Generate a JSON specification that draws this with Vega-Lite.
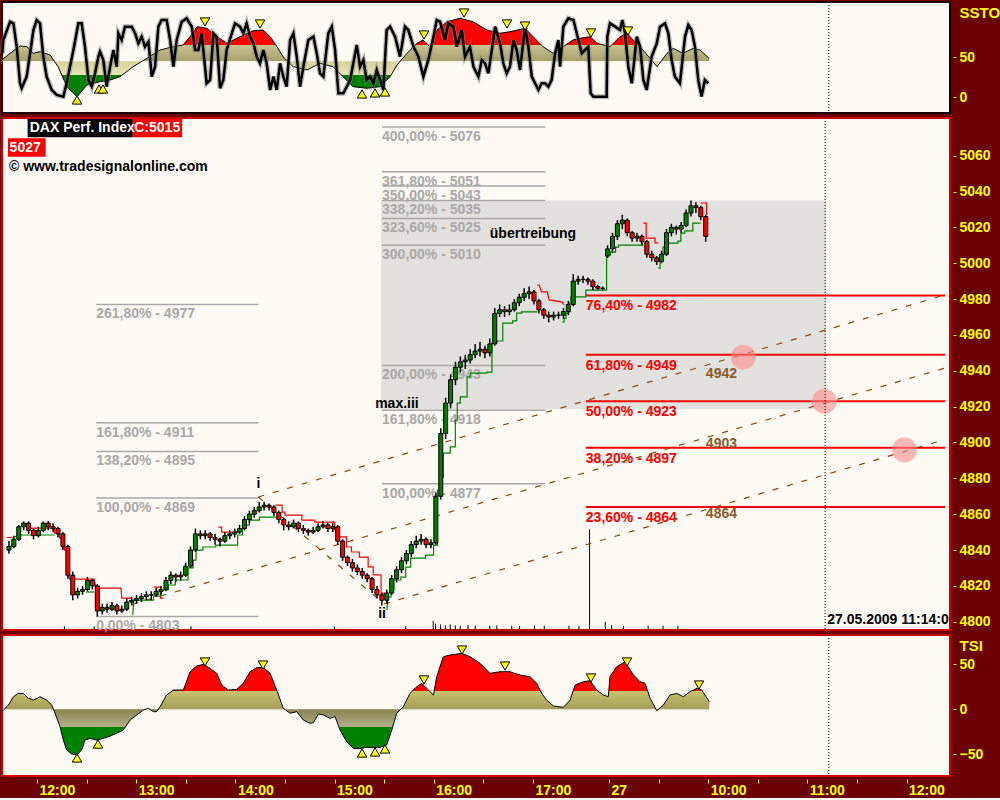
{
"$schema":"https://vega.github.io/schema/vega-lite/v6.json",
"background":"#6b0000",
"padding":{"left":-9,"top":0,"right":0,"bottom":0},
"spacing":5,
"bounds":"flush",
"config":{
 "axis":{"labelFont":"Liberation Sans","labelFontWeight":"bold","labelFontSize":14,"labelColor":"#ffff00","tickColor":"#ffff00","domain":false,"grid":false,"titleFont":"Liberation Sans","titleFontWeight":"bold","titleFontSize":15,"titleColor":"#ffff00","labelOverlap":false},
 "text":{"font":"Liberation Sans","fontWeight":"bold","fontSize":14}
},
"datasets":{
"px":[
{"t":-20,"o":4840,"h":4845,"l":4838,"c":4842},{"t":-17,"o":4842,"h":4848,"l":4841,"c":4846},{"t":-14,"o":4846,"h":4854,"l":4845,"c":4853},{"t":-11,"o":4853,"h":4856,"l":4851,"c":4855},{"t":-8,"o":4855,"h":4856,"l":4849,"c":4851},{"t":-5,"o":4851,"h":4852,"l":4846,"c":4848},{"t":-2,"o":4848,"h":4853,"l":4847,"c":4851},{"t":1,"o":4851,"h":4856,"l":4850,"c":4855},{"t":4,"o":4855,"h":4856,"l":4851,"c":4853},{"t":7,"o":4853,"h":4855,"l":4850,"c":4852},{"t":10,"o":4852,"h":4853,"l":4847,"c":4849},{"t":13,"o":4849,"h":4850,"l":4840,"c":4842},{"t":16,"o":4842,"h":4843,"l":4824,"c":4826},{"t":19,"o":4826,"h":4828,"l":4812,"c":4815},{"t":22,"o":4815,"h":4819,"l":4813,"c":4817},{"t":25,"o":4817,"h":4820,"l":4815,"c":4818},{"t":28,"o":4818,"h":4825,"l":4817,"c":4823},{"t":31,"o":4823,"h":4824,"l":4818,"c":4820},{"t":34,"o":4820,"h":4821,"l":4803,"c":4806},{"t":37,"o":4806,"h":4810,"l":4804,"c":4808},{"t":40,"o":4808,"h":4810,"l":4805,"c":4807},{"t":43,"o":4807,"h":4811,"l":4806,"c":4809},{"t":46,"o":4809,"h":4810,"l":4804,"c":4806},{"t":49,"o":4806,"h":4809,"l":4805,"c":4807},{"t":52,"o":4807,"h":4813,"l":4806,"c":4811},{"t":55,"o":4811,"h":4814,"l":4809,"c":4812},{"t":58,"o":4812,"h":4815,"l":4810,"c":4813},{"t":61,"o":4813,"h":4816,"l":4811,"c":4814},{"t":64,"o":4814,"h":4817,"l":4812,"c":4815},{"t":67,"o":4815,"h":4817,"l":4812,"c":4815},{"t":70,"o":4815,"h":4819,"l":4814,"c":4817},{"t":73,"o":4817,"h":4820,"l":4815,"c":4818},{"t":76,"o":4818,"h":4825,"l":4817,"c":4823},{"t":79,"o":4823,"h":4828,"l":4821,"c":4826},{"t":82,"o":4826,"h":4827,"l":4822,"c":4825},{"t":85,"o":4825,"h":4828,"l":4823,"c":4826},{"t":88,"o":4826,"h":4833,"l":4825,"c":4831},{"t":91,"o":4831,"h":4842,"l":4830,"c":4840},{"t":94,"o":4840,"h":4852,"l":4839,"c":4849},{"t":97,"o":4849,"h":4851,"l":4846,"c":4848},{"t":100,"o":4848,"h":4851,"l":4846,"c":4849},{"t":103,"o":4849,"h":4850,"l":4845,"c":4847},{"t":106,"o":4847,"h":4849,"l":4843,"c":4846},{"t":109,"o":4846,"h":4847,"l":4842,"c":4845},{"t":112,"o":4845,"h":4850,"l":4844,"c":4848},{"t":115,"o":4848,"h":4851,"l":4846,"c":4849},{"t":118,"o":4849,"h":4852,"l":4847,"c":4850},{"t":121,"o":4850,"h":4854,"l":4849,"c":4852},{"t":124,"o":4852,"h":4859,"l":4851,"c":4857},{"t":127,"o":4857,"h":4862,"l":4855,"c":4860},{"t":130,"o":4860,"h":4864,"l":4858,"c":4862},{"t":133,"o":4862,"h":4867,"l":4861,"c":4864},{"t":136,"o":4864,"h":4867,"l":4862,"c":4865},{"t":139,"o":4865,"h":4866,"l":4862,"c":4864},{"t":142,"o":4864,"h":4865,"l":4859,"c":4861},{"t":145,"o":4861,"h":4862,"l":4855,"c":4857},{"t":148,"o":4857,"h":4858,"l":4851,"c":4854},{"t":151,"o":4854,"h":4856,"l":4851,"c":4853},{"t":154,"o":4853,"h":4857,"l":4852,"c":4855},{"t":157,"o":4855,"h":4856,"l":4850,"c":4852},{"t":160,"o":4852,"h":4854,"l":4849,"c":4851},{"t":163,"o":4851,"h":4852,"l":4848,"c":4850},{"t":166,"o":4850,"h":4853,"l":4849,"c":4851},{"t":169,"o":4851,"h":4855,"l":4850,"c":4853},{"t":172,"o":4853,"h":4856,"l":4852,"c":4854},{"t":175,"o":4854,"h":4855,"l":4850,"c":4852},{"t":178,"o":4852,"h":4855,"l":4850,"c":4853},{"t":181,"o":4853,"h":4854,"l":4843,"c":4845},{"t":184,"o":4845,"h":4846,"l":4834,"c":4836},{"t":187,"o":4836,"h":4837,"l":4831,"c":4833},{"t":190,"o":4833,"h":4835,"l":4828,"c":4830},{"t":193,"o":4830,"h":4832,"l":4826,"c":4828},{"t":196,"o":4828,"h":4830,"l":4824,"c":4826},{"t":199,"o":4826,"h":4827,"l":4822,"c":4824},{"t":202,"o":4824,"h":4825,"l":4816,"c":4818},{"t":205,"o":4818,"h":4820,"l":4813,"c":4815},{"t":208,"o":4815,"h":4816,"l":4809,"c":4812},{"t":211,"o":4812,"h":4818,"l":4810,"c":4816},{"t":214,"o":4816,"h":4826,"l":4815,"c":4824},{"t":217,"o":4824,"h":4831,"l":4822,"c":4829},{"t":220,"o":4829,"h":4836,"l":4827,"c":4834},{"t":223,"o":4834,"h":4840,"l":4832,"c":4838},{"t":226,"o":4838,"h":4845,"l":4836,"c":4843},{"t":229,"o":4843,"h":4848,"l":4841,"c":4845},{"t":232,"o":4845,"h":4849,"l":4843,"c":4846},{"t":235,"o":4846,"h":4847,"l":4841,"c":4843},{"t":238,"o":4843,"h":4846,"l":4841,"c":4844},{"t":241,"o":4844,"h":4872,"l":4843,"c":4870},{"t":244,"o":4870,"h":4908,"l":4868,"c":4905},{"t":247,"o":4905,"h":4925,"l":4902,"c":4922},{"t":250,"o":4922,"h":4938,"l":4919,"c":4935},{"t":253,"o":4935,"h":4945,"l":4932,"c":4942},{"t":256,"o":4942,"h":4948,"l":4939,"c":4945},{"t":259,"o":4945,"h":4949,"l":4941,"c":4946},{"t":262,"o":4946,"h":4952,"l":4944,"c":4949},{"t":265,"o":4949,"h":4955,"l":4947,"c":4951},{"t":268,"o":4951,"h":4956,"l":4948,"c":4952},{"t":271,"o":4952,"h":4954,"l":4947,"c":4950},{"t":274,"o":4950,"h":4958,"l":4948,"c":4955},{"t":277,"o":4955,"h":4975,"l":4954,"c":4972},{"t":280,"o":4972,"h":4977,"l":4970,"c":4974},{"t":283,"o":4974,"h":4976,"l":4970,"c":4973},{"t":286,"o":4973,"h":4977,"l":4971,"c":4974},{"t":289,"o":4974,"h":4980,"l":4973,"c":4978},{"t":292,"o":4978,"h":4983,"l":4976,"c":4981},{"t":295,"o":4981,"h":4986,"l":4979,"c":4983},{"t":298,"o":4983,"h":4987,"l":4980,"c":4984},{"t":301,"o":4984,"h":4985,"l":4977,"c":4979},{"t":304,"o":4979,"h":4980,"l":4972,"c":4974},{"t":307,"o":4974,"h":4975,"l":4969,"c":4971},{"t":310,"o":4971,"h":4973,"l":4967,"c":4970},{"t":313,"o":4970,"h":4973,"l":4968,"c":4971},{"t":316,"o":4971,"h":4973,"l":4969,"c":4971},{"t":319,"o":4971,"h":4975,"l":4969,"c":4973},{"t":322,"o":4973,"h":4979,"l":4971,"c":4977},{"t":325,"o":4977,"h":4994,"l":4976,"c":4990},{"t":328,"o":4990,"h":4993,"l":4988,"c":4991},{"t":331,"o":4991,"h":4993,"l":4989,"c":4991},{"t":334,"o":4991,"h":4992,"l":4988,"c":4990},{"t":337,"o":4990,"h":4991,"l":4985,"c":4987},{"t":340,"o":4987,"h":4988,"l":4985,"c":4986},{"t":343,"o":4986,"h":4987,"l":4985,"c":4986},{"t":346,"o":5004,"h":5010,"l":5003,"c":5008},{"t":349,"o":5008,"h":5017,"l":5006,"c":5015},{"t":352,"o":5015,"h":5024,"l":5013,"c":5022},{"t":355,"o":5022,"h":5027,"l":5019,"c":5024},{"t":358,"o":5024,"h":5025,"l":5015,"c":5017},{"t":361,"o":5017,"h":5018,"l":5012,"c":5014},{"t":364,"o":5014,"h":5017,"l":5012,"c":5015},{"t":367,"o":5015,"h":5016,"l":5010,"c":5012},{"t":370,"o":5012,"h":5013,"l":5003,"c":5005},{"t":373,"o":5005,"h":5007,"l":5001,"c":5003},{"t":376,"o":5003,"h":5004,"l":4999,"c":5001},{"t":379,"o":5001,"h":5007,"l":5000,"c":5005},{"t":382,"o":5005,"h":5019,"l":5004,"c":5017},{"t":385,"o":5017,"h":5022,"l":5015,"c":5020},{"t":388,"o":5020,"h":5021,"l":5016,"c":5019},{"t":391,"o":5019,"h":5023,"l":5017,"c":5021},{"t":394,"o":5021,"h":5030,"l":5020,"c":5028},{"t":397,"o":5028,"h":5035,"l":5026,"c":5032},{"t":400,"o":5032,"h":5034,"l":5028,"c":5031},{"t":403,"o":5031,"h":5032,"l":5024,"c":5026},{"t":406,"o":5026,"h":5027,"l":5012,"c":5015}
],
"rstep":[
{"s":1,"t":-21.2,"v":4847},{"s":1,"t":-18,"v":4847},
{"s":2,"t":-7.3,"v":4852.2},{"s":2,"t":7.9,"v":4852.2},{"s":2,"t":7.9,"v":4849.5},{"s":2,"t":10.9,"v":4849.5},{"s":2,"t":10.9,"v":4846.7},{"s":2,"t":13.9,"v":4846.7},{"s":2,"t":13.9,"v":4840},{"s":2,"t":15.7,"v":4840},{"s":2,"t":17,"v":4823.8},{"s":2,"t":32.1,"v":4823.8},{"s":2,"t":33.3,"v":4818.8},{"s":2,"t":48.4,"v":4818.8},{"s":2,"t":49,"v":4813.2},{"s":2,"t":55.1,"v":4813.2},
{"s":3,"t":68.4,"v":4819.3},{"s":3,"t":72.6,"v":4819.3},{"s":3,"t":72.6,"v":4813.2},{"s":3,"t":74.4,"v":4813.2},
{"s":4,"t":108,"v":4852.8},{"s":4,"t":110,"v":4852.8},{"s":4,"t":110,"v":4850},{"s":4,"t":120,"v":4850},
{"s":5,"t":142.8,"v":4865.1},{"s":5,"t":147,"v":4865.1},{"s":5,"t":147,"v":4861.2},{"s":5,"t":148.8,"v":4861.2},{"s":5,"t":148.8,"v":4859.5},{"s":5,"t":159.1,"v":4859.5},{"s":5,"t":159.1,"v":4856.7},{"s":5,"t":167,"v":4856.7},{"s":5,"t":167,"v":4855.6},{"s":5,"t":179.1,"v":4855.6},{"s":5,"t":179.1,"v":4851.2},{"s":5,"t":181.5,"v":4851.2},{"s":5,"t":181.5,"v":4847.3},{"s":5,"t":186.3,"v":4847.3},{"s":5,"t":186.3,"v":4841.7},{"s":5,"t":189.4,"v":4841.7},{"s":5,"t":189.4,"v":4838.9},{"s":5,"t":194.2,"v":4838.9},{"s":5,"t":194.2,"v":4836.1},{"s":5,"t":199.6,"v":4836.1},{"s":5,"t":199.6,"v":4830.6},{"s":5,"t":202.7,"v":4830.6},{"s":5,"t":202.7,"v":4826.1},{"s":5,"t":207.5,"v":4826.1},{"s":5,"t":207.5,"v":4816},{"s":5,"t":209.9,"v":4816},
{"s":6,"t":303.1,"v":4987.8},{"s":6,"t":304.3,"v":4987.8},{"s":6,"t":305.5,"v":4984},{"s":6,"t":309.1,"v":4984},{"s":6,"t":310.3,"v":4979.5},{"s":6,"t":318.2,"v":4978.3},{"s":6,"t":319.4,"v":4976.7},
{"s":7,"t":367.8,"v":5022.4},{"s":7,"t":369.6,"v":5022.4},{"s":7,"t":369.6,"v":5014},{"s":7,"t":375,"v":5014},{"s":7,"t":375,"v":5011.3},{"s":7,"t":376.9,"v":5011.3},
{"s":8,"t":402.9,"v":5033.6},{"s":8,"t":406.5,"v":5033.6},{"s":8,"t":406.5,"v":5026.9}
],
"gstep":[
{"s":1,"t":-21.2,"v":4841.7},{"s":1,"t":-18.1,"v":4841.7},{"s":1,"t":-17.5,"v":4846.7},{"s":1,"t":-14.5,"v":4848.4},{"s":1,"t":7.9,"v":4848.4},
{"s":2,"t":27.2,"v":4816.6},{"s":2,"t":32.1,"v":4816.6},
{"s":3,"t":55.7,"v":4803.7},{"s":3,"t":56.3,"v":4812.1},{"s":3,"t":68.4,"v":4812.1},{"s":3,"t":68.4,"v":4814.3},{"s":3,"t":72.6,"v":4814.3},{"s":3,"t":72.6,"v":4817.7},{"s":3,"t":77.4,"v":4817.7},{"s":3,"t":77.4,"v":4820.5},{"s":3,"t":81.7,"v":4820.5},{"s":3,"t":81.7,"v":4823.3},{"s":3,"t":89.5,"v":4823.3},{"s":3,"t":89.5,"v":4830},{"s":3,"t":92.6,"v":4830},{"s":3,"t":92.6,"v":4834.4},{"s":3,"t":94.4,"v":4834.4},{"s":3,"t":94.4,"v":4840},{"s":3,"t":98.6,"v":4840},{"s":3,"t":98.6,"v":4841.7},{"s":3,"t":106.5,"v":4841.7},{"s":3,"t":106.5,"v":4842.8},{"s":3,"t":119.8,"v":4842.8},{"s":3,"t":119.8,"v":4848.4},{"s":3,"t":122.8,"v":4848.4},{"s":3,"t":122.8,"v":4853.9},{"s":3,"t":127,"v":4853.9},{"s":3,"t":127,"v":4856.7},{"s":3,"t":133.1,"v":4856.7},{"s":3,"t":133.1,"v":4858.4},{"s":3,"t":144,"v":4858.4},
{"s":5,"t":211.1,"v":4806.5},{"s":5,"t":211.7,"v":4813.8},{"s":5,"t":213.6,"v":4813.8},{"s":5,"t":213.6,"v":4817.7},{"s":5,"t":215.4,"v":4817.7},{"s":5,"t":215.4,"v":4823.3},{"s":5,"t":219.6,"v":4823.3},{"s":5,"t":219.6,"v":4824.9},{"s":5,"t":222.6,"v":4824.9},{"s":5,"t":222.6,"v":4830.5},{"s":5,"t":225.6,"v":4830.5},{"s":5,"t":225.6,"v":4835.5},{"s":5,"t":234.7,"v":4835.5},{"s":5,"t":234.7,"v":4837.2},{"s":5,"t":239.6,"v":4837.2},{"s":5,"t":239.6,"v":4842.8},{"s":5,"t":242,"v":4842.8},{"s":5,"t":242,"v":4873.5},{"s":5,"t":245,"v":4873.5},{"s":5,"t":245,"v":4880.7},{"s":5,"t":245.6,"v":4880.7},{"s":5,"t":245.6,"v":4894.1},{"s":5,"t":249.8,"v":4894.1},{"s":5,"t":249.8,"v":4897.5},{"s":5,"t":252.9,"v":4897.5},{"s":5,"t":252.9,"v":4912.5},{"s":5,"t":254.1,"v":4912.5},{"s":5,"t":254.1,"v":4922},{"s":5,"t":255.9,"v":4922},{"s":5,"t":255.9,"v":4925.4},{"s":5,"t":260.1,"v":4925.4},{"s":5,"t":260.1,"v":4936.5},{"s":5,"t":262,"v":4936.5},{"s":5,"t":262,"v":4938.7},{"s":5,"t":272.2,"v":4938.7},{"s":5,"t":272.2,"v":4939.3},{"s":5,"t":275.3,"v":4939.3},{"s":5,"t":275.3,"v":4955.5},{"s":5,"t":278.3,"v":4955.5},{"s":5,"t":278.3,"v":4956.6},{"s":5,"t":281.9,"v":4956.6},{"s":5,"t":281.9,"v":4966.6},{"s":5,"t":288,"v":4966.6},{"s":5,"t":288,"v":4967.8},{"s":5,"t":290.4,"v":4967.8},{"s":5,"t":290.4,"v":4972.2},{"s":5,"t":293.4,"v":4972.2},{"s":5,"t":293.4,"v":4972.8},{"s":5,"t":303.1,"v":4972.8},
{"s":6,"t":318.2,"v":4967.2},{"s":6,"t":319.4,"v":4967.2},{"s":6,"t":319.4,"v":4969.4},{"s":6,"t":320.6,"v":4969.4},{"s":6,"t":320.6,"v":4972.2},{"s":6,"t":322.4,"v":4972.2},{"s":6,"t":322.4,"v":4977.8},{"s":6,"t":323.6,"v":4977.8},{"s":6,"t":323.6,"v":4981.2},{"s":6,"t":332.7,"v":4981.2},{"s":6,"t":332.7,"v":4985},{"s":6,"t":345.4,"v":4985},{"s":6,"t":345.4,"v":5004.6},{"s":6,"t":347.8,"v":5004.6},{"s":6,"t":347.8,"v":5006.2},{"s":6,"t":350.9,"v":5006.2},{"s":6,"t":350.9,"v":5009},{"s":6,"t":352.7,"v":5009},{"s":6,"t":352.7,"v":5010.1},{"s":6,"t":367.8,"v":5010.1},
{"s":7,"t":376.9,"v":4997.3},{"s":7,"t":378.1,"v":4997.3},{"s":7,"t":378.1,"v":5003.4},{"s":7,"t":378.7,"v":5003.4},{"s":7,"t":378.7,"v":5004.6},{"s":7,"t":379.9,"v":5004.6},{"s":7,"t":379.9,"v":5009},{"s":7,"t":381.1,"v":5009},{"s":7,"t":381.1,"v":5011.2},{"s":7,"t":389,"v":5011.2},{"s":7,"t":389,"v":5012.3},{"s":7,"t":390.8,"v":5012.3},{"s":7,"t":390.8,"v":5016.8},{"s":7,"t":393.2,"v":5016.8},{"s":7,"t":393.2,"v":5018},{"s":7,"t":398.1,"v":5018},{"s":7,"t":398.1,"v":5022.4},{"s":7,"t":402.9,"v":5022.4}
],
"vol":[{"t":13.9,"v":4797.5},{"t":32.1,"v":4797.5},{"t":91.3,"v":4797.5},{"t":179,"v":4797.5},{"t":222.6,"v":4797.5},{"t":239.4,"v":4800.5},{"t":240.8,"v":4799},{"t":243.8,"v":4798.5},{"t":246.8,"v":4798},{"t":249.8,"v":4798.5},{"t":252.9,"v":4798},{"t":255.9,"v":4797.8},{"t":260.7,"v":4798.2},{"t":265,"v":4797.8},{"t":274,"v":4797.8},{"t":278.3,"v":4798},{"t":287.4,"v":4797.8},{"t":292.2,"v":4797.8},{"t":301.3,"v":4797.8},{"t":307.3,"v":4797.8},{"t":322.4,"v":4797.8},{"t":328.5,"v":4797.8},{"t":335,"v":4851.5},{"t":344.6,"v":4800},{"t":348.5,"v":4798},{"t":355.7,"v":4797.8},{"t":370.8,"v":4797.8},{"t":379.9,"v":4797.8},{"t":389,"v":4797.8}],
"fibg":[
{"t1":33.3,"t2":132.5,"v":4803,"lab":"0,00% - 4803"},{"t1":33.3,"t2":132.5,"v":4869,"lab":"100,00% - 4869"},{"t1":33.3,"t2":132.5,"v":4895,"lab":"138,20% - 4895"},{"t1":33.3,"t2":132.5,"v":4911,"lab":"161,80% - 4911"},{"t1":33.3,"t2":132.5,"v":4977,"lab":"261,80% - 4977"},
{"t1":208.1,"t2":307.9,"v":4877,"lab":"100,00% - 4877"},{"t1":208.1,"t2":307.9,"v":4918,"lab":"161,80% - 4918"},{"t1":208.1,"t2":307.9,"v":4943,"lab":"200,00% - 4943"},{"t1":208.1,"t2":307.9,"v":5010,"lab":"300,00% - 5010"},{"t1":208.1,"t2":307.9,"v":5025,"lab":"323,60% - 5025"},{"t1":208.1,"t2":307.9,"v":5035,"lab":"338,20% - 5035"},{"t1":208.1,"t2":307.9,"v":5043,"lab":"350,00% - 5043"},{"t1":208.1,"t2":307.9,"v":5051,"lab":"361,80% - 5051"},{"t1":208.1,"t2":307.9,"v":5076,"lab":"400,00% - 5076"}
],
"fibr":[
{"t1":332.7,"t2":552.3,"v":4982,"lab":"76,40% - 4982"},{"t1":332.7,"t2":552.3,"v":4949,"lab":"61,80% - 4949"},{"t1":332.7,"t2":552.3,"v":4923,"lab":"50,00% - 4923"},{"t1":332.7,"t2":552.3,"v":4897,"lab":"38,20% - 4897"},{"t1":332.7,"t2":552.3,"v":4864,"lab":"23,60% - 4864"}
],
"chan":[{"s":"A","t":132.5,"v":4869.6},{"s":"A","t":552.3,"v":4982.3},{"s":"B","t":55,"v":4809.6},{"s":"B","t":552.3,"v":4941.5},{"s":"C","t":209.3,"v":4809.9},{"s":"C","t":552.3,"v":4901.6},{"s":"D","t":132.5,"v":4869.6},{"s":"D","t":209.3,"v":4809.9}],
"circ":[{"t":429,"v":4947.6},{"t":478.5,"v":4923},{"t":527.5,"v":4895.8}],
"ss":[{"t":-21.2,"v":46.5},{"t":-16.3,"v":54.8},{"t":-10.3,"v":63.9},{"t":-6,"v":63},{"t":-2.4,"v":54.8},{"t":1.8,"v":56.8},{"t":7.9,"v":52.7},{"t":12.7,"v":38.1},{"t":18.1,"v":13.2},{"t":24.2,"v":0.7},{"t":30.2,"v":15.3},{"t":38.1,"v":19.4},{"t":44.2,"v":21.5},{"t":50.2,"v":25.7},{"t":58.1,"v":38.1},{"t":66.5,"v":48.6},{"t":74.4,"v":58.9},{"t":82.3,"v":63},{"t":88.3,"v":65.1},{"t":92.6,"v":75.5},{"t":96.8,"v":87.9},{"t":102.8,"v":85.9},{"t":108.9,"v":75.5},{"t":114.9,"v":67.2},{"t":122.8,"v":75.5},{"t":130.7,"v":82.9},{"t":136.7,"v":83.8},{"t":141,"v":75.5},{"t":145.2,"v":63},{"t":148.8,"v":50.6},{"t":154.9,"v":38.1},{"t":163.3,"v":34},{"t":171.2,"v":42.3},{"t":179.1,"v":38.1},{"t":185.1,"v":25.7},{"t":191.2,"v":13.2},{"t":199.6,"v":11.2},{"t":207.5,"v":13.2},{"t":213.6,"v":25.7},{"t":217.8,"v":40.2},{"t":223.8,"v":54.8},{"t":229.9,"v":67.2},{"t":233.5,"v":71.4},{"t":237.8,"v":63},{"t":242,"v":83.8},{"t":248,"v":94.1},{"t":255.9,"v":98.4},{"t":263.8,"v":94.1},{"t":272.2,"v":83.8},{"t":280.1,"v":79.7},{"t":286.1,"v":81.7},{"t":295.2,"v":85.9},{"t":300.1,"v":75.5},{"t":306.1,"v":63},{"t":312.2,"v":54.8},{"t":318.2,"v":63},{"t":324.3,"v":71.4},{"t":328.5,"v":73.5},{"t":334.5,"v":75.5},{"t":338.8,"v":67.2},{"t":346.6,"v":63},{"t":352.7,"v":75.5},{"t":356.9,"v":79.7},{"t":360.6,"v":71.4},{"t":364.8,"v":63},{"t":370.8,"v":48.6},{"t":375.1,"v":38.1},{"t":381.1,"v":54.8},{"t":384.8,"v":60.9},{"t":390.8,"v":54.8},{"t":396.9,"v":60.9},{"t":401.1,"v":58.9},{"t":406.5,"v":48.6}],
"sf":[{"t":-21,"v":54.8},{"t":-20.4,"v":71.3},{"t":-16.3,"v":94.2},{"t":-14.3,"v":92.1},{"t":-12.3,"v":63.1},{"t":-10.3,"v":17.4},{"t":-9.3,"v":11.2},{"t":-6.3,"v":25.7},{"t":-4.2,"v":54.8},{"t":-2.2,"v":83.8},{"t":-0.2,"v":96.2},{"t":1.8,"v":92.1},{"t":3.8,"v":50.6},{"t":5.8,"v":25.7},{"t":8.9,"v":9.1},{"t":11.9,"v":2.9},{"t":15.9,"v":0.8},{"t":17.9,"v":17.4},{"t":22,"v":58.9},{"t":25,"v":92.1},{"t":27,"v":92.1},{"t":29,"v":63.1},{"t":31.1,"v":21.5},{"t":33.1,"v":13.2},{"t":35.1,"v":29.8},{"t":37.1,"v":50.6},{"t":38.1,"v":56.8},{"t":40.1,"v":46.5},{"t":42.1,"v":13.2},{"t":44.2,"v":38.1},{"t":46.2,"v":58.9},{"t":48.2,"v":38.1},{"t":49.2,"v":79.7},{"t":51.2,"v":71.3},{"t":53.2,"v":88},{"t":57.3,"v":88},{"t":59.3,"v":79.7},{"t":61.3,"v":67.2},{"t":63.3,"v":75.5},{"t":65.3,"v":63.1},{"t":67.4,"v":69.3},{"t":69.4,"v":25.7},{"t":71.4,"v":38.1},{"t":73.4,"v":88},{"t":75.4,"v":96.2},{"t":78.4,"v":96.2},{"t":80.5,"v":71.3},{"t":82.5,"v":38.1},{"t":84.5,"v":71.3},{"t":87.5,"v":94.2},{"t":90.5,"v":98.3},{"t":93.6,"v":88},{"t":95.6,"v":58.9},{"t":97.6,"v":58.9},{"t":99.6,"v":79.7},{"t":102.6,"v":17.4},{"t":104.7,"v":21.5},{"t":106.7,"v":79.7},{"t":108.7,"v":75.5},{"t":110.7,"v":11.2},{"t":112.7,"v":21.5},{"t":114.7,"v":58.9},{"t":117.8,"v":79.7},{"t":119.8,"v":92.1},{"t":122.8,"v":88},{"t":124.8,"v":79.7},{"t":126.8,"v":92.1},{"t":128.9,"v":75.5},{"t":130.9,"v":67.2},{"t":132.9,"v":50.6},{"t":134.9,"v":42.3},{"t":136.9,"v":58.9},{"t":138.9,"v":42.3},{"t":141,"v":9.1},{"t":143,"v":25.7},{"t":145,"v":9.1},{"t":147,"v":42.3},{"t":149,"v":25.7},{"t":151,"v":13.2},{"t":153.1,"v":71.3},{"t":155.1,"v":79.7},{"t":157.1,"v":50.6},{"t":159.1,"v":13.2},{"t":161.1,"v":38.1},{"t":164.1,"v":71.3},{"t":167.2,"v":75.5},{"t":169.2,"v":54.8},{"t":171.2,"v":29.8},{"t":173.2,"v":25.7},{"t":176.2,"v":79.7},{"t":178.3,"v":88},{"t":180.3,"v":58.9},{"t":182.3,"v":4.9},{"t":185.3,"v":4.9},{"t":189.4,"v":21.5},{"t":193.4,"v":65.1},{"t":195.4,"v":38.1},{"t":197.4,"v":46.5},{"t":199.4,"v":21.5},{"t":201.5,"v":25.7},{"t":203.5,"v":17.4},{"t":205.5,"v":34},{"t":207.5,"v":21.5},{"t":209.5,"v":9.1},{"t":211.5,"v":83.8},{"t":213.6,"v":88},{"t":216.6,"v":75.5},{"t":219.6,"v":50.6},{"t":222.6,"v":88},{"t":224.6,"v":83.8},{"t":227.7,"v":63.1},{"t":230.7,"v":50.6},{"t":233.7,"v":25.7},{"t":236.7,"v":46.5},{"t":239.8,"v":75.5},{"t":241.8,"v":96.2},{"t":243.8,"v":94.2},{"t":246.8,"v":71.3},{"t":248.8,"v":92.1},{"t":251.9,"v":88},{"t":253.9,"v":63.1},{"t":256.9,"v":83.8},{"t":258.9,"v":50.6},{"t":261.9,"v":63.1},{"t":264,"v":38.1},{"t":267,"v":25.7},{"t":269,"v":46.5},{"t":271,"v":42.3},{"t":273,"v":29.8},{"t":275.1,"v":58.9},{"t":277.1,"v":88},{"t":280.1,"v":67.2},{"t":282.1,"v":42.3},{"t":284.1,"v":29.8},{"t":286.1,"v":38.1},{"t":288.2,"v":71.3},{"t":290.2,"v":58.9},{"t":292.2,"v":34},{"t":295.2,"v":88},{"t":297.2,"v":63.1},{"t":299.3,"v":25.7},{"t":301.3,"v":17.4},{"t":303.3,"v":9.1},{"t":305.3,"v":17.4},{"t":307.3,"v":17.4},{"t":309.3,"v":13.2},{"t":311.3,"v":21.5},{"t":313.4,"v":54.8},{"t":315.4,"v":71.3},{"t":316.4,"v":38.1},{"t":318.4,"v":88},{"t":321.4,"v":98.3},{"t":324.5,"v":96.2},{"t":327.5,"v":71.3},{"t":329.5,"v":54.8},{"t":331.5,"v":58.9},{"t":333.5,"v":63.1},{"t":334.9,"v":4.9},{"t":336.6,"v":0.8},{"t":344.6,"v":0.8},{"t":345,"v":75.5},{"t":346.6,"v":92.1},{"t":349.7,"v":88},{"t":352.7,"v":83.8},{"t":354.1,"v":96.2},{"t":355.7,"v":79.7},{"t":357.7,"v":38.1},{"t":359.8,"v":17.4},{"t":362.8,"v":75.5},{"t":364.8,"v":63.1},{"t":366.8,"v":21.5},{"t":368.8,"v":9.1},{"t":371.8,"v":50.6},{"t":374.9,"v":67.2},{"t":376.9,"v":88},{"t":379.9,"v":92.1},{"t":381.9,"v":79.7},{"t":383.9,"v":46.5},{"t":385.9,"v":25.7},{"t":388.9,"v":17.4},{"t":392,"v":75.5},{"t":394,"v":90},{"t":396,"v":83.8},{"t":398,"v":63.1},{"t":400,"v":21.5},{"t":402,"v":0.8},{"t":404,"v":21.5},{"t":406.1,"v":17.4}],
"sTD":[{"t":101.6,"v":93.8},{"t":134.9,"v":91.3},{"t":234.1,"v":77.6},{"t":258.3,"v":105},{"t":284.3,"v":91.3},{"t":295.2,"v":88.8},{"t":335.1,"v":80.1},{"t":357.5,"v":82.6}],
"sTU":[{"t":24.2,"v":-3.4},{"t":37.5,"v":10.3},{"t":39.9,"v":10.3},{"t":196.6,"v":4.1},{"t":204.5,"v":5.4},{"t":210.5,"v":6.6}],
"tsi":[{"t":-21.2,"v":-2.6},{"t":-20.4,"v":-0.8},{"t":-17.3,"v":4.8},{"t":-14.3,"v":14},{"t":-11.3,"v":17.7},{"t":-8.3,"v":17.7},{"t":-5.2,"v":12.2},{"t":-2.2,"v":10.3},{"t":1.8,"v":14},{"t":5.8,"v":10.3},{"t":8.9,"v":4.8},{"t":10.9,"v":-4.4},{"t":13.9,"v":-19.2},{"t":15.9,"v":-34.1},{"t":17.9,"v":-45.2},{"t":21,"v":-49.6},{"t":24,"v":-50.7},{"t":27,"v":-45.2},{"t":29,"v":-34.1},{"t":32.1,"v":-32.3},{"t":36.1,"v":-34.1},{"t":40.1,"v":-32.3},{"t":44.2,"v":-29.7},{"t":48.2,"v":-26.7},{"t":52.2,"v":-23},{"t":56.3,"v":-11.9},{"t":60.3,"v":-6.3},{"t":64.3,"v":-0.8},{"t":67.4,"v":1.1},{"t":70.4,"v":-2.6},{"t":72.4,"v":-2.6},{"t":74.4,"v":2.9},{"t":78.4,"v":15.9},{"t":82.5,"v":21.4},{"t":88.5,"v":21.4},{"t":92.6,"v":41.8},{"t":96.6,"v":48.1},{"t":100.6,"v":50},{"t":104.7,"v":45.5},{"t":108.7,"v":40},{"t":111.7,"v":27},{"t":115.7,"v":21.4},{"t":120.8,"v":22.2},{"t":124.8,"v":28.9},{"t":128.9,"v":41.8},{"t":132.9,"v":46.3},{"t":136.9,"v":46.6},{"t":141,"v":40},{"t":145,"v":21.4},{"t":149,"v":1.1},{"t":153.1,"v":-4.4},{"t":157.1,"v":-2.6},{"t":161.1,"v":-11.9},{"t":165.2,"v":-15.6},{"t":167.2,"v":-14.8},{"t":170.2,"v":-5.2},{"t":173.2,"v":-6.3},{"t":177.3,"v":-10},{"t":180.3,"v":-8.2},{"t":183.3,"v":-23},{"t":187.3,"v":-36},{"t":191.4,"v":-43.4},{"t":195.4,"v":-43.4},{"t":199.4,"v":-42.3},{"t":203.5,"v":-42.3},{"t":207.5,"v":-42.3},{"t":211.5,"v":-39.7},{"t":214.6,"v":-23},{"t":217.6,"v":-4.4},{"t":221.6,"v":2.9},{"t":225.6,"v":17.7},{"t":229.7,"v":25.1},{"t":232.7,"v":28.9},{"t":235.7,"v":23.3},{"t":239.8,"v":15.9},{"t":241.8,"v":36.3},{"t":245.8,"v":58.5},{"t":249.8,"v":60.3},{"t":256.9,"v":62.2},{"t":261.9,"v":58.5},{"t":268,"v":51.1},{"t":274,"v":40},{"t":280.1,"v":41.8},{"t":286.1,"v":41.8},{"t":292.2,"v":38.1},{"t":298.2,"v":36.3},{"t":302.3,"v":28.9},{"t":305.3,"v":17.7},{"t":308.3,"v":10.3},{"t":312.4,"v":3.7},{"t":318.4,"v":2.2},{"t":322.5,"v":10.3},{"t":325.5,"v":27},{"t":330.5,"v":30.7},{"t":334.5,"v":31.8},{"t":338.6,"v":21.4},{"t":342.6,"v":15.9},{"t":345.6,"v":14},{"t":346.6,"v":36.3},{"t":350.7,"v":47.4},{"t":355.7,"v":52.9},{"t":360.8,"v":38.1},{"t":364.8,"v":30.7},{"t":367.8,"v":28.9},{"t":370.9,"v":12.2},{"t":374.9,"v":-1.5},{"t":378.9,"v":4.8},{"t":382.9,"v":15.9},{"t":387,"v":17.7},{"t":391,"v":14},{"t":395,"v":19.6},{"t":399.1,"v":23.3},{"t":402.1,"v":21.4},{"t":406.7,"v":8.5}],
"tTD":[{"t":101.6,"v":52.6},{"t":136.7,"v":49.2},{"t":234.1,"v":32.6},{"t":257.1,"v":65.9},{"t":283.1,"v":48.1},{"t":335.1,"v":34.8},{"t":356.9,"v":52.6},{"t":400.5,"v":27}],
"tTU":[{"t":24.2,"v":-54.1},{"t":36.9,"v":-38.6},{"t":196.6,"v":-48.6},{"t":204.5,"v":-47.4},{"t":210.5,"v":-44.1}]
},
"vconcat":[
{
 "width":948,"height":111,
 "view":{"stroke":"#1a0000","strokeWidth":2,"fill":"#fffbf4"},
 "encoding":{"x":{"field":"t","type":"quantitative","scale":{"domain":[-21.2,552.3],"nice":false,"zero":false},"axis":null}},
 "layer":[
  {"data":{"name":"ss"},"mark":{"type":"area","fill":{"gradient":"linear","x1":0,"y1":0,"x2":0,"y2":1,"stops":[{"offset":0,"color":"#ff0000"},{"offset":0.342,"color":"#ff0000"},{"offset":0.342,"color":"#c9c48f"},{"offset":0.547,"color":"#a6a06c"},{"offset":0.547,"color":"#d8d39b"},{"offset":0.7206,"color":"#e7e3b5"},{"offset":0.7206,"color":"#008000"},{"offset":1,"color":"#008000"}]}},
   "encoding":{"y":{"field":"v","type":"quantitative","scale":{"domain":[-19.6,118.7],"nice":false,"zero":false},"axis":{"orient":"right","values":[0,50],"tickCount":10,"tickSize":3,"offset":3,"labelPadding":3,"title":"SSTO","titleAngle":0,"titleAlign":"left","titleBaseline":"top","titleX":6,"titleY":3}},"y2":{"datum":45}}},
  {"data":{"values":[{}]},"mark":{"type":"rule","color":"#e00000","strokeWidth":1.2},"encoding":{"x":{"datum":-21.2,"axis":null},"x2":{"datum":406.5},"y":{"datum":100}}},
  {"data":{"values":[{}]},"mark":{"type":"rule","color":"#8a8a8a","strokeWidth":1.2},"encoding":{"x":{"datum":-21.2,"axis":null},"x2":{"datum":406.5},"y":{"datum":65}}},
  {"data":{"values":[{}]},"mark":{"type":"rule","color":"#b0b0b0","strokeWidth":4},"encoding":{"x":{"datum":-21.2,"axis":null},"x2":{"datum":406.5},"y":{"datum":45}}},
  {"data":{"values":[{}]},"mark":{"type":"rule","color":"#333333","strokeWidth":1.2,"strokeDash":[4,3]},"encoding":{"x":{"datum":-21.2,"axis":null},"x2":{"datum":406.5},"y":{"datum":45}}},
  {"data":{"values":[{}]},"mark":{"type":"rule","color":"#8a8a8a","strokeWidth":1.2},"encoding":{"x":{"datum":-21.2,"axis":null},"x2":{"datum":406.5},"y":{"datum":28}}},
  {"data":{"values":[{}]},"mark":{"type":"rule","color":"#3cb043","strokeWidth":1.5},"encoding":{"x":{"datum":-21.2,"axis":null},"x2":{"datum":406.5},"y":{"datum":0}}},
  {"data":{"name":"ss"},"mark":{"type":"line","color":"#000000","strokeWidth":1},"encoding":{"y":{"field":"v","type":"quantitative"}}},
  {"data":{"name":"sf"},"mark":{"type":"line","color":"#7a7a7a","strokeWidth":5,"opacity":0.5},"encoding":{"y":{"field":"v","type":"quantitative"}}},
  {"data":{"name":"sf"},"mark":{"type":"line","color":"#000000","strokeWidth":2.5},"encoding":{"y":{"field":"v","type":"quantitative"}}},
  {"data":{"name":"sTD"},"mark":{"type":"point","shape":"triangle-down","filled":true,"fill":"#ffff00","stroke":"#000000","strokeWidth":1,"size":90,"opacity":1},"encoding":{"y":{"field":"v","type":"quantitative"}}},
  {"data":{"name":"sTU"},"mark":{"type":"point","shape":"triangle-up","filled":true,"fill":"#ffff00","stroke":"#000000","strokeWidth":1,"size":90,"opacity":1},"encoding":{"y":{"field":"v","type":"quantitative"}}},
  {"data":{"values":[{"t":479}]},"mark":{"type":"rule","color":"#000000","strokeWidth":1,"strokeDash":[1,2]},"encoding":{}}
 ]
},
{
 "width":948,"height":512,
 "view":{"stroke":"#d00000","strokeWidth":2,"fill":"#fffbf4"},
 "encoding":{"x":{"field":"t","type":"quantitative","scale":{"domain":[-21.2,552.3],"nice":false,"zero":false},"axis":null}},
 "layer":[
  {"data":{"values":[{"t1":207.5,"t2":479.7,"v1":4918.5,"v2":5035}]},"mark":{"type":"rect","fill":"#e3e1dd"},
   "encoding":{"x":{"field":"t1","type":"quantitative","axis":null},"x2":{"field":"t2"},"y":{"field":"v1","type":"quantitative","scale":{"domain":[4795.4,5081],"nice":false,"zero":false},"axis":{"orient":"right","values":[4800,4820,4840,4860,4880,4900,4920,4940,4960,4980,5000,5020,5040,5060],"tickCount":30,"format":"d","tickSize":3,"offset":3,"labelPadding":3,"labelOverlap":false,"title":null}},"y2":{"field":"v2"}}},
  {"data":{"name":"vol"},"mark":{"type":"rule","color":"#000000","strokeWidth":1},"encoding":{"y":{"field":"v","type":"quantitative"},"y2":{"datum":4795.4}}},
  {"data":{"name":"fibg"},"mark":{"type":"rule","color":"#a8a8a8","strokeWidth":1.5},"encoding":{"x":{"field":"t1","type":"quantitative","axis":null},"x2":{"field":"t2"},"y":{"field":"v","type":"quantitative"}}},
  {"data":{"name":"fibg"},"mark":{"type":"text","color":"#a8a8a8","align":"left","baseline":"middle","dy":10},"encoding":{"x":{"field":"t1","type":"quantitative","axis":null},"y":{"field":"v","type":"quantitative"},"text":{"field":"lab"}}},
  {"data":{"name":"fibr"},"mark":{"type":"rule","color":"#ff0000","strokeWidth":2},"encoding":{"x":{"field":"t1","type":"quantitative","axis":null},"x2":{"field":"t2"},"y":{"field":"v","type":"quantitative"}}},
  {"data":{"name":"fibr"},"mark":{"type":"text","color":"#ff0000","align":"left","baseline":"middle","dy":11},"encoding":{"x":{"field":"t1","type":"quantitative","axis":null},"y":{"field":"v","type":"quantitative"},"text":{"field":"lab"}}},
  {"data":{"name":"chan"},"mark":{"type":"line","color":"#8b4513","strokeWidth":1.2,"strokeDash":[6,9]},"encoding":{"y":{"field":"v","type":"quantitative"},"detail":{"field":"s"}}},
  {"data":{"name":"rstep"},"mark":{"type":"line","color":"#ff0000","strokeWidth":1.2},"encoding":{"y":{"field":"v","type":"quantitative"},"detail":{"field":"s"},"order":{"value":null}}},
  {"data":{"name":"gstep"},"mark":{"type":"line","color":"#008000","strokeWidth":1.2},"encoding":{"y":{"field":"v","type":"quantitative"},"detail":{"field":"s"},"order":{"value":null}}},
  {"data":{"name":"px"},"mark":{"type":"rule","color":"#000000","strokeWidth":1.5},"encoding":{"y":{"field":"l","type":"quantitative"},"y2":{"field":"h"}}},
  {"data":{"name":"px"},"mark":{"type":"bar","width":4,"stroke":"#000000","strokeWidth":1},"encoding":{"y":{"field":"o","type":"quantitative"},"y2":{"field":"c"},"color":{"condition":{"test":"datum.c >= datum.o","value":"#008000"},"value":"#ff0000"}}},
  {"data":{"name":"circ"},"mark":{"type":"point","filled":true,"fill":"#ff8a8a","opacity":0.6,"size":620,"strokeWidth":0},"encoding":{"y":{"field":"v","type":"quantitative"}}},
  {"data":{"values":[{"t":132.5,"v":4876.8,"txt":"i"},{"t":208.1,"v":4804.3,"txt":"ii"}]},"mark":{"type":"text","color":"#000000","align":"center","baseline":"middle"},"encoding":{"y":{"field":"v","type":"quantitative"},"text":{"field":"txt"}}},
  {"data":{"values":[{"t":203.9,"v":4921.4,"txt":"max.iii"},{"t":274,"v":5016.2,"txt":"übertreibung"}]},"mark":{"type":"text","color":"#000000","align":"left","baseline":"middle"},"encoding":{"y":{"field":"v","type":"quantitative"},"text":{"field":"txt"}}},
  {"data":{"values":[{"t":415.6,"v":4938.2,"txt":"4942"},{"t":415.6,"v":4899.1,"txt":"4903"},{"t":415.6,"v":4860.1,"txt":"4864"}]},"mark":{"type":"text","color":"#8b5a2b","align":"center","baseline":"middle"},"encoding":{"y":{"field":"v","type":"quantitative"},"text":{"field":"txt"}}},
  {"data":{"values":[{"t1":-8.6,"t2":55.7,"v1":5070.2,"v2":5080.4}]},"mark":{"type":"rect","fill":"#000000"},"encoding":{"x":{"field":"t1","type":"quantitative","axis":null},"x2":{"field":"t2"},"y":{"field":"v1","type":"quantitative"},"y2":{"field":"v2"}}},
  {"data":{"values":[{"t1":55.7,"t2":85.9,"v1":5070.2,"v2":5080.4},{"t1":-20.6,"t2":2.4,"v1":5059.4,"v2":5069.7}]},"mark":{"type":"rect","fill":"#ff0000"},"encoding":{"x":{"field":"t1","type":"quantitative","axis":null},"x2":{"field":"t2"},"y":{"field":"v1","type":"quantitative"},"y2":{"field":"v2"}}},
  {"data":{"values":[{"t":-7.3,"v":5075.4,"txt":"DAX Perf. Index"},{"t":56.6,"v":5075.4,"txt":"C:5015"},{"t":-19.6,"v":5064.5,"txt":"5027"}]},"mark":{"type":"text","color":"#ffffff","align":"left","baseline":"middle"},"encoding":{"y":{"field":"v","type":"quantitative"},"text":{"field":"txt"}}},
  {"data":{"values":[{"t":-20,"v":5053.8,"txt":"© www.tradesignalonline.com"},{"t":480.3,"v":4800.9,"txt":"27.05.2009 11:14:00"}]},"mark":{"type":"text","color":"#000000","align":"left","baseline":"middle","clip":true},"encoding":{"y":{"field":"v","type":"quantitative"},"text":{"field":"txt"}}},
  {"data":{"values":[{"t":479}]},"mark":{"type":"rule","color":"#000000","strokeWidth":1,"strokeDash":[1,2]},"encoding":{}}
 ]
},
{
 "width":948,"height":141,
 "view":{"stroke":"#d00000","strokeWidth":2,"fill":"#fffbf4"},
 "encoding":{"x":{"field":"t","type":"quantitative","scale":{"domain":[-21.2,552.3],"nice":false,"zero":false},"title":null,
   "axis":{"values":[0,30,60,90,120,150,180,210,240,270,300,346,376,406,436,466,496,526],"tickCount":40,"labelExpr":"datum.value==0?'12:00':datum.value==60?'13:00':datum.value==120?'14:00':datum.value==180?'15:00':datum.value==240?'16:00':datum.value==300?'17:00':datum.value==346?'27':datum.value==406?'10:00':datum.value==466?'11:00':datum.value==526?'12:00':''","labelAlign":"left","labelOffset":2,"labelFlush":false,"labelOverlap":false,"tickSize":4,"offset":3,"labelPadding":0,"title":null}}},
 "layer":[
  {"data":{"name":"tsi"},"mark":{"type":"area","fill":{"gradient":"linear","x1":0,"y1":0,"x2":0,"y2":1,"stops":[{"offset":0,"color":"#ff0000"},{"offset":0.3738,"color":"#ff0000"},{"offset":0.3738,"color":"#c8c26c"},{"offset":0.5509,"color":"#a29d5b"},{"offset":0.5509,"color":"#87824f"},{"offset":0.7281,"color":"#b5b18b"},{"offset":0.7281,"color":"#008000"},{"offset":1,"color":"#008000"}]}},
   "encoding":{"y":{"field":"v","type":"quantitative","scale":{"domain":[-74.1,82.6],"nice":false,"zero":false},"axis":{"orient":"right","values":[-50,0,50],"tickCount":10,"tickSize":3,"offset":3,"labelPadding":3,"title":"TSI","titleAngle":0,"titleAlign":"left","titleBaseline":"top","titleX":6,"titleY":3}},"y2":{"datum":0}}},
  {"data":{"values":[{}]},"mark":{"type":"rule","color":"#b4b4b4","strokeWidth":4},"encoding":{"x":{"datum":-21.2},"x2":{"datum":406.5},"y":{"datum":20}}},
  {"data":{"values":[{}]},"mark":{"type":"rule","color":"#ffffff","strokeWidth":1.2,"strokeDash":[2,2]},"encoding":{"x":{"datum":-21.2},"x2":{"datum":406.5},"y":{"datum":20}}},
  {"data":{"values":[{}]},"mark":{"type":"rule","color":"#b4b4b4","strokeWidth":4},"encoding":{"x":{"datum":-21.2},"x2":{"datum":406.5},"y":{"datum":-1}}},
  {"data":{"values":[{}]},"mark":{"type":"rule","color":"#000000","strokeWidth":1.5,"strokeDash":[5,3]},"encoding":{"x":{"datum":-21.2},"x2":{"datum":406.5},"y":{"datum":0}}},
  {"data":{"values":[{}]},"mark":{"type":"rule","color":"#c4c4c4","strokeWidth":3},"encoding":{"x":{"datum":-21.2},"x2":{"datum":406.5},"y":{"datum":-21.8}}},
  {"data":{"values":[{}]},"mark":{"type":"rule","color":"#1a8a1a","strokeWidth":1.5},"encoding":{"x":{"datum":-21.2},"x2":{"datum":406.5},"y":{"datum":-20}}},
  {"data":{"name":"tsi"},"mark":{"type":"line","color":"#000000","strokeWidth":1},"encoding":{"y":{"field":"v","type":"quantitative"}}},
  {"data":{"name":"tTD"},"mark":{"type":"point","shape":"triangle-down","filled":true,"fill":"#ffff00","stroke":"#000000","strokeWidth":1,"size":90,"opacity":1},"encoding":{"y":{"field":"v","type":"quantitative"}}},
  {"data":{"name":"tTU"},"mark":{"type":"point","shape":"triangle-up","filled":true,"fill":"#ffff00","stroke":"#000000","strokeWidth":1,"size":90,"opacity":1},"encoding":{"y":{"field":"v","type":"quantitative"}}},
  {"data":{"values":[{"t":479}]},"mark":{"type":"rule","color":"#000000","strokeWidth":1,"strokeDash":[1,2]},"encoding":{}}
 ]
}
]
}
